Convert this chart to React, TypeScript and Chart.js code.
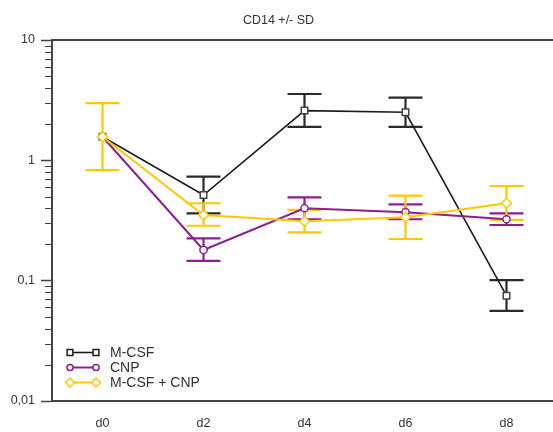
import React, { useEffect, useRef } from "react";
import { Chart, registerables } from "chart.js";
import { drawPoint } from "chart.js/helpers";

Chart.register(...registerables);

// Sampling days
const days = ["d0", "d2", "d4", "d6", "d8"];

// Mean CD14 expression per condition, with the ends of the SD bars
const mcsfMean = [1.57, 0.515, 2.59, 2.51, 0.075];
const mcsfHigh = [null, 0.733, 3.56, 3.32, 0.101];
const mcsfLow = [null, 0.363, 1.9, 1.9, 0.056];

const cnpMean = [1.57, 0.18, 0.4, 0.371, 0.324];
const cnpHigh = [null, 0.225, 0.493, 0.431, 0.363];
const cnpLow = [null, 0.146, 0.324, 0.324, 0.29];

const comboMean = [1.57, 0.351, 0.312, 0.337, 0.44];
const comboHigh = [2.99, 0.44, 0.387, 0.509, 0.612];
const comboLow = [0.83, 0.286, 0.252, 0.222, 0.32];

// Log axis decades and their labels (comma decimal separator)
const yTickValues = [0.01, 0.1, 1, 10];
const yTickLabels = ["0,01", "0,1", "1", "10"];

const FONT = "'Liberation Sans', Arial, Helvetica, sans-serif";
const AXIS = "#444444";
const TEXT = "#333333";

const BLACK = "#1c1c1c";
const PURPLE = "#8c1f91";
const YELLOW = "#ffc800";

const series = [
  { label: "M-CSF", mean: mcsfMean, high: mcsfHigh, low: mcsfLow, color: BLACK, style: "rect", radius: 4.6, order: 2, width: 1.6 },
  { label: "CNP", mean: cnpMean, high: cnpHigh, low: cnpLow, color: PURPLE, style: "circle", radius: 3.6, order: 1, width: 2 },
  { label: "M-CSF + CNP", mean: comboMean, high: comboHigh, low: comboLow, color: YELLOW, style: "rectRot", radius: 5, order: 0, width: 2 },
];

// SD whiskers with caps, drawn beneath the lines and markers
const errorBarPlugin = {
  id: "errorBars",
  beforeDatasetsDraw(chart: any) {
    const { ctx, scales } = chart;
    const xs = scales.x;
    const ys = scales.y;
    const cap = 17;
    ctx.save();
    ctx.lineWidth = 2.2;
    for (const s of series) {
      ctx.strokeStyle = s.color === BLACK ? "#2a2a2a" : s.color;
      s.mean.forEach((_, i) => {
        const hi = s.high[i];
        const lo = s.low[i];
        if (hi == null || lo == null) return;
        const px = xs.getPixelForValue(i);
        const pHi = ys.getPixelForValue(hi);
        const pLo = ys.getPixelForValue(lo);
        ctx.beginPath();
        ctx.moveTo(px, pHi);
        ctx.lineTo(px, pLo);
        ctx.moveTo(px - cap, pHi);
        ctx.lineTo(px + cap, pHi);
        ctx.moveTo(px - cap, pLo);
        ctx.lineTo(px + cap, pLo);
        ctx.stroke();
      });
    }
    ctx.restore();
  },
};

// Frame top line, minor log ticks and the in-plot legend
const decorPlugin = {
  id: "decor",
  afterDraw(chart: any) {
    const { ctx, chartArea, scales } = chart;
    const ys = scales.y;
    ctx.save();
    ctx.strokeStyle = AXIS;
    ctx.lineWidth = 2;
    ctx.beginPath();
    ctx.moveTo(chartArea.left - 1, chartArea.top);
    ctx.lineTo(chartArea.right, chartArea.top);
    ctx.stroke();

    ctx.lineWidth = 1.2;
    ctx.beginPath();
    for (let d = -2; d < 1; d++) {
      for (let m = 2; m <= 9; m++) {
        const py = Math.round(ys.getPixelForValue(m * Math.pow(10, d))) + 0.5;
        ctx.moveTo(chartArea.left - 7, py);
        ctx.lineTo(chartArea.left, py);
      }
    }
    ctx.stroke();

    // legend
    const x0 = chartArea.left + 18;
    const x1 = chartArea.left + 44;
    const tx = chartArea.left + 58;
    ctx.font = `14px ${FONT}`;
    ctx.textBaseline = "middle";
    series.forEach((s, k) => {
      const yy = chartArea.bottom - 48.5 + k * 15;
      ctx.strokeStyle = s.color;
      ctx.lineWidth = s.width;
      ctx.beginPath();
      ctx.moveTo(x0, yy);
      ctx.lineTo(x1, yy);
      ctx.stroke();
      ctx.fillStyle = "#ffffff";
      ctx.lineWidth = 1.5;
      for (const px of [x0, x1]) {
        drawPoint(ctx, { pointStyle: s.style, radius: s.radius - 0.5, rotation: 0, borderWidth: 1.5 } as any, px, yy);
      }
      ctx.fillStyle = TEXT;
      ctx.fillText(s.label, tx, yy + 0.5);
    });
    ctx.restore();
  },
};

export default function App() {
  const canvasRef = useRef<HTMLCanvasElement | null>(null);

  useEffect(() => {
    const canvas = canvasRef.current;
    if (!canvas) return;
    const chart = new Chart(canvas, {
      type: "line",
      data: {
        labels: days,
        datasets: series.map((s) => ({
          label: s.label,
          data: s.mean,
          borderColor: s.color,
          borderWidth: s.width,
          backgroundColor: s.color,
          pointStyle: s.style as any,
          pointRadius: s.radius,
          pointBorderWidth: 1.5,
          pointBorderColor: s.color === BLACK ? "#444" : s.color,
          pointBackgroundColor: "#ffffff",
          tension: 0,
          fill: false,
          order: s.order,
        })),
      },
      options: {
        responsive: false,
        animation: false,
        devicePixelRatio: 1,
        layout: { padding: { left: 0, right: 17, top: 0, bottom: 0 } },
        plugins: {
          legend: { display: false },
          tooltip: { enabled: false },
          title: {
            display: true,
            text: "CD14 +/- SD",
            color: TEXT,
            font: { family: FONT, size: 12.5, weight: "normal" },
            padding: { top: 13.5, bottom: 11.5 },
          },
        },
        scales: {
          x: {
            type: "category",
            offset: true,
            grid: { display: false, drawTicks: false, tickLength: 0 },
            border: { display: true, color: AXIS, width: 2 },
            ticks: { padding: 15, color: TEXT, font: { family: FONT, size: 12.5 } },
            afterFit: (s: any) => {
              s.height = 31;
            },
          },
          y: {
            type: "logarithmic",
            min: 0.01,
            max: 10,
            afterBuildTicks: (s: any) => {
              s.ticks = yTickValues.map((v) => ({ value: v, major: true }));
            },
            ticks: {
              autoSkip: false,
              padding: 6,
              color: TEXT,
              font: { family: FONT, size: 12.5 },
              callback: (_v: any, i: number) => yTickLabels[i],
            },
            grid: { drawOnChartArea: false, tickLength: 11, tickWidth: 1.5, tickColor: AXIS },
            border: { display: true, color: AXIS, width: 2 },
            afterFit: (s: any) => {
              s.width = 52;
            },
          },
        },
      },
      plugins: [errorBarPlugin, decorPlugin],
    });
    return () => chart.destroy();
  }, []);

  return (
    <div style={{ position: "absolute", left: 0, top: 0, width: 553, height: 432, overflow: "hidden", background: "#fff" }}>
      <canvas ref={canvasRef} width={574} height={432} style={{ display: "block" }} />
    </div>
  );
}
